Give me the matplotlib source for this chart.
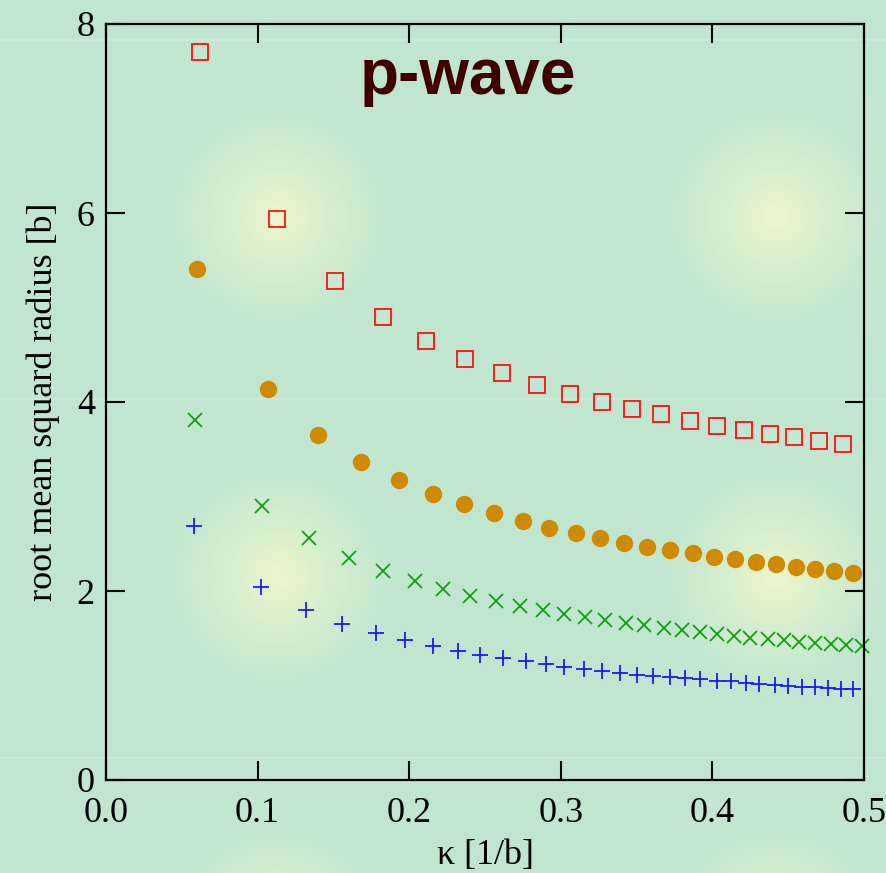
import numpy as np
import matplotlib
matplotlib.use("Agg")
import matplotlib.pyplot as plt

plt.rcParams['font.family'] = ['Liberation Serif', 'DejaVu Serif']

# kappa [1/b] and rms radius [b]
kappa_sq = [0.062, 0.113, 0.151, 0.183, 0.211, 0.237, 0.261, 0.284, 0.306, 0.327,
            0.347, 0.366, 0.385, 0.403, 0.421, 0.438, 0.454, 0.470, 0.486]
rms_sq = [7.70, 5.94, 5.28, 4.90, 4.65, 4.46, 4.31, 4.18, 4.08, 4.00,
          3.93, 3.87, 3.80, 3.75, 3.70, 3.66, 3.63, 3.59, 3.56]

kappa_ci = [0.060, 0.107, 0.140, 0.168, 0.193, 0.216, 0.236, 0.256, 0.275, 0.292,
            0.310, 0.326, 0.342, 0.357, 0.372, 0.387, 0.401, 0.415, 0.429, 0.442,
            0.455, 0.468, 0.480, 0.493]
rms_ci = [5.41, 4.14, 3.65, 3.37, 3.17, 3.03, 2.92, 2.83, 2.74, 2.67,
          2.61, 2.56, 2.51, 2.47, 2.43, 2.40, 2.36, 2.34, 2.31, 2.29,
          2.25, 2.23, 2.21, 2.19]

kappa_x = [0.059, 0.103, 0.134, 0.160, 0.183, 0.204, 0.222, 0.240, 0.257, 0.273,
           0.288, 0.302, 0.316, 0.329, 0.343, 0.355, 0.368, 0.380, 0.392, 0.403,
           0.414, 0.425, 0.437, 0.447, 0.457, 0.468, 0.478, 0.488, 0.499]
rms_x = [3.81, 2.90, 2.56, 2.35, 2.21, 2.11, 2.02, 1.95, 1.89, 1.84,
         1.80, 1.76, 1.72, 1.69, 1.66, 1.64, 1.61, 1.59, 1.57, 1.54,
         1.52, 1.50, 1.49, 1.48, 1.46, 1.45, 1.44, 1.43, 1.42]

kappa_pl = [0.058, 0.102, 0.132, 0.156, 0.178, 0.197, 0.216, 0.232, 0.247, 0.262,
            0.277, 0.290, 0.302, 0.315, 0.327, 0.339, 0.350, 0.361, 0.372, 0.382,
            0.392, 0.403, 0.412, 0.422, 0.431, 0.441, 0.450, 0.459, 0.468, 0.476,
            0.485, 0.493]
rms_pl = [2.69, 2.04, 1.80, 1.65, 1.56, 1.48, 1.42, 1.37, 1.32, 1.29,
          1.26, 1.23, 1.20, 1.17, 1.15, 1.13, 1.11, 1.10, 1.09, 1.08,
          1.07, 1.05, 1.05, 1.03, 1.02, 1.01, 0.99, 0.98, 0.98, 0.97,
          0.96, 0.96]

W, H = 887, 873
fig = plt.figure(figsize=(W / 100, H / 100), dpi=100)

# background: mint green with soft yellow glows and faint light stripes
yy, xx = np.mgrid[0:H, 0:W].astype(float)
base = np.array([193, 230, 208]) / 255.0
glow = np.array([236, 246, 204]) / 255.0
t = np.zeros((H, W))
for cx in (277, 775):
    for cy in (-143, 217, 577, 937):
        r = np.hypot(xx - cx, yy - cy)
        t = np.maximum(t, 0.85 * np.clip(1 - r / 110, 0, 1) ** 1.2
                       + 0.15 * np.clip(1 - r / 180, 0, 1))
img = base + (glow - base) * t[..., None]
for ly in (39, 398, 757):
    img[ly:ly + 2, :, :] = img[ly:ly + 2, :, :] * 0.6 + 0.4 * np.array([0.86, 0.94, 0.89])
bg = fig.add_axes([0, 0, 1, 1], zorder=-1)
bg.imshow(img, aspect='auto', interpolation='bilinear')
bg.axis('off')

ax = fig.add_axes([106 / W, (H - 780) / H, (864 - 106) / W, (780 - 24) / H])
ax.set_facecolor('none')

ax.plot(kappa_sq, rms_sq, ls='none', marker='s', ms=11, mfc='none',
        mec='#ff1010', mew=1.3, clip_on=False)
ax.plot(kappa_ci, rms_ci, ls='none', marker='o', ms=11.5, mfc='#cf8a00',
        mec='#cf8a00', clip_on=False)
ax.plot(kappa_x, rms_x, ls='none', marker='x', ms=10.5, mec='#10a010',
        mew=1.3, clip_on=False)
ax.plot(kappa_pl, rms_pl, ls='none', marker='+', ms=12, mec='#1a1aff',
        mew=1.3, clip_on=False)

ax.set_xlim(0, 0.5)
ax.set_ylim(0, 8)
ax.set_xticks(np.arange(0, 0.51, 0.1))
ax.set_xticklabels(['0.0', '0.1', '0.2', '0.3', '0.4', '0.5'])
ax.set_yticks([0, 2, 4, 6, 8])
for s in ax.spines.values():
    s.set_linewidth(1.6)
ax.tick_params(direction='in', length=14, width=1.5, top=True, right=True,
               labelsize=26)
ax.tick_params(axis='x', pad=12)
ax.tick_params(axis='y', pad=8)

ax.set_xlabel('κ [1/b]', fontsize=26, labelpad=7)
ax.set_ylabel('root mean squard radius [b]', fontsize=26, labelpad=12)

ax.text(0.477, 0.907, 'p-wave', transform=ax.transAxes, ha='center',
        va='baseline', fontsize=46, fontweight='bold', color='#400000',
        family='Liberation Sans')

fig.savefig('out.png', dpi=100)
